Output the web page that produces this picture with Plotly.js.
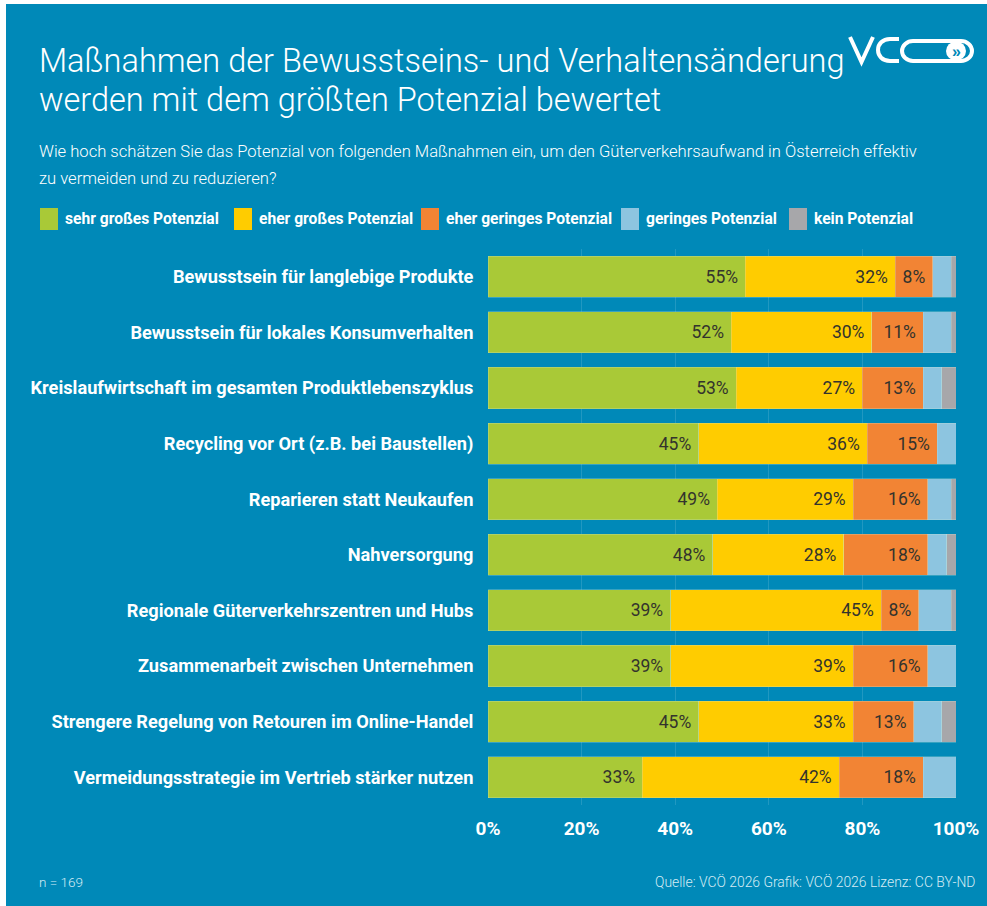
<!DOCTYPE html>
<html>
<head>
<meta charset="utf-8">
<script src="https://cdn.plot.ly/plotly-3.0.1.min.js"></script>
<style>html,body{margin:0;padding:0;background:#fff;}#chart{width:987px;height:906px;}</style>
</head>
<body>
<div id="chart"></div>
<script>
const categories = [
  "Bewusstsein für langlebige Produkte",
  "Bewusstsein für lokales Konsumverhalten",
  "Kreislaufwirtschaft im gesamten Produktlebenszyklus",
  "Recycling vor Ort (z.B. bei Baustellen)",
  "Reparieren statt Neukaufen",
  "Nahversorgung",
  "Regionale Güterverkehrszentren und Hubs",
  "Zusammenarbeit zwischen Unternehmen",
  "Strengere Regelung von Retouren im Online-Handel",
  "Vermeidungsstrategie im Vertrieb stärker nutzen"
];
const seriesNames = ["sehr großes Potenzial", "eher großes Potenzial", "eher geringes Potenzial", "geringes Potenzial", "kein Potenzial"];
const sehrGross    = [55, 52, 53, 45, 49, 48, 39, 39, 45, 33];
const eherGross    = [32, 30, 27, 36, 29, 28, 45, 39, 33, 42];
const eherGering   = [8, 11, 13, 15, 16, 18, 8, 16, 13, 18];
const gering       = [4, 6, 4, 4, 5, 4, 7, 6, 6, 7];
const kein         = [1, 1, 3, 0, 1, 2, 1, 0, 3, 0];
const tickValues = [0, 20, 40, 60, 80, 100];
const tickLabels = ["0%", "20%", "40%", "60%", "80%", "100%"];

const titleLines = ["Maßnahmen der Bewusstseins- und Verhaltensänderung", "werden mit dem größten Potenzial bewertet"];
const subtitleLines = ["Wie hoch schätzen Sie das Potenzial von folgenden Maßnahmen ein, um den Güterverkehrsaufwand in Österreich effektiv", "zu vermeiden und zu reduzieren?"];
const noteLeft = "n = 169";
const noteRight = "Quelle: VCÖ 2026 Grafik: VCÖ 2026 Lizenz: CC BY-ND";

const colors = ["#A9C937", "#FFCC00", "#F28434", "#8DC5E0", "#A7A7AA"];
const BG = "#0089B8";
const FONT = "Roboto, 'Liberation Sans', Arial, sans-serif";
const WIDE = "'Liberation Sans', Arial, sans-serif";

// plot area in pixels
const W = 987, H = 906;
const L = 488, R = 956, T = 249, B = 805;
const PW = R - L, PH = B - T;
const X = px => (px - L) / PW;
const Y = py => (B - py) / PH;
function path(cmds) {
  return cmds.map(c => {
    const op = c[0];
    const pts = [];
    for (let i = 1; i < c.length; i += 2) pts.push(X(c[i]) + "," + Y(c[i + 1]));
    return op + pts.join(" ");
  }).join(" ");
}

const allSeries = [sehrGross, eherGross, eherGering, gering, kein];
const traces = allSeries.map((vals, i) => ({
  type: "bar",
  orientation: "h",
  name: seriesNames[i],
  x: vals,
  y: categories,
  marker: {color: colors[i], line: {color: "rgba(200,230,220,0.35)", width: 0.8}},
  texttemplate: i < 3 ? "%{x}%\u00a0" : "",
  textposition: i < 3 ? "inside" : "none",
  insidetextanchor: "end",
  textangle: 0,
  constraintext: "none",
  insidetextfont: {family: FONT, size: 17.5, color: "#33332d", weight: 400},
  hoverinfo: "none",
  showlegend: false
}));

const shapes = [
  {type: "rect", xref: "paper", yref: "paper", x0: X(6), x1: X(987), y0: Y(4), y1: Y(906), fillcolor: BG, line: {width: 0}, layer: "below"}
];
const annotations = [];

// titles
titleLines.forEach((t, i) => annotations.push({
  xref: "paper", yref: "paper", x: X(37), y: Y(61 + i * 39), xanchor: "left", yanchor: "middle",
  text: t, showarrow: false, font: {family: FONT, size: 32.5, color: "#ffffff", weight: 300}
}));
subtitleLines.forEach((t, i) => annotations.push({
  xref: "paper", yref: "paper", x: X(37), y: Y(151 + i * 28), xanchor: "left", yanchor: "middle",
  text: t, showarrow: false, font: {family: FONT, size: 16.6, color: "#ffffff", weight: 300}
}));

// legend
const legendSq = [40, 234, 421, 621, 789];
seriesNames.forEach((n, i) => {
  shapes.push({type: "rect", xref: "paper", yref: "paper", x0: X(legendSq[i]), x1: X(legendSq[i] + 18), y0: Y(208), y1: Y(230), fillcolor: colors[i], line: {width: 0}});
  annotations.push({xref: "paper", yref: "paper", x: X(legendSq[i] + 23), y: Y(219), xanchor: "left", yanchor: "middle",
    text: "<b>" + n + "</b>", showarrow: false, font: {family: FONT, size: 15.6, color: "#ffffff"}});
});

// footer
annotations.push({xref: "paper", yref: "paper", x: X(37), y: Y(882), xanchor: "left", yanchor: "middle",
  text: noteLeft, showarrow: false, font: {family: FONT, size: 13.5, color: "#d6ecf5", weight: 300}});
annotations.push({xref: "paper", yref: "paper", x: X(977), y: Y(882), xanchor: "right", yanchor: "middle",
  text: noteRight, showarrow: false, font: {family: FONT, size: 13.9, color: "#d6ecf5", weight: 300}});

// logo
const logoLine = {color: "#ffffff", width: 4};
shapes.push({type: "path", xref: "paper", yref: "paper", line: logoLine,
  path: path([["M", 850, 37], ["L", 861.5, 62], ["L", 873, 37]])});
shapes.push({type: "path", xref: "paper", yref: "paper", line: logoLine,
  path: path([["M", 899, 39], ["L", 890, 39], ["C", 882.5, 39, 878, 44, 878, 50], ["C", 878, 56, 882.5, 61, 890, 61], ["L", 899, 61]])});
shapes.push({type: "path", xref: "paper", yref: "paper", line: logoLine,
  path: path([["M", 913, 41], ["L", 961, 41], ["C", 967, 41, 972, 45.5, 972, 51], ["C", 972, 56.5, 967, 61, 961, 61], ["L", 913, 61], ["C", 907, 61, 902, 56.5, 902, 51], ["C", 902, 45.5, 907, 41, 913, 41]]) + " Z"});
shapes.push({type: "circle", xref: "paper", yref: "paper", x0: X(946), x1: X(966), y0: Y(41.5), y1: Y(60.5), fillcolor: "#ffffff", line: {width: 0}});
annotations.push({xref: "paper", yref: "paper", x: X(956.5), y: Y(51), xanchor: "center", yanchor: "middle",
  text: "<b>»</b>", showarrow: false, font: {family: WIDE, size: 16, color: BG}});

const layout = {
  width: W, height: H,
  margin: {l: L, r: W - R, t: T, b: H - B, pad: 0},
  paper_bgcolor: "#ffffff",
  plot_bgcolor: "rgba(0,0,0,0)",
  barmode: "stack",
  bargap: 0.26,
  showlegend: false,
  xaxis: {
    range: [0, 100], tickvals: tickValues, ticktext: tickLabels,
    showgrid: true, gridcolor: "rgba(255,255,255,0.13)", gridwidth: 1,
    zeroline: false, showline: false, ticks: "outside", ticklen: 6, tickcolor: "rgba(0,0,0,0)",
    tickfont: {family: FONT, size: 19, color: "#ffffff", weight: "bold"},
    fixedrange: true
  },
  yaxis: {
    autorange: "reversed", showgrid: false, zeroline: false, showline: false,
    ticks: "outside", ticklen: 10, tickcolor: "rgba(0,0,0,0)",
    tickfont: {family: FONT, size: 18.2, color: "#ffffff", weight: "bold"},
    fixedrange: true
  },
  shapes: shapes,
  annotations: annotations,
  font: {family: FONT}
};

Plotly.newPlot("chart", traces, layout, {displayModeBar: false, staticPlot: true});
</script>
</body>
</html>
